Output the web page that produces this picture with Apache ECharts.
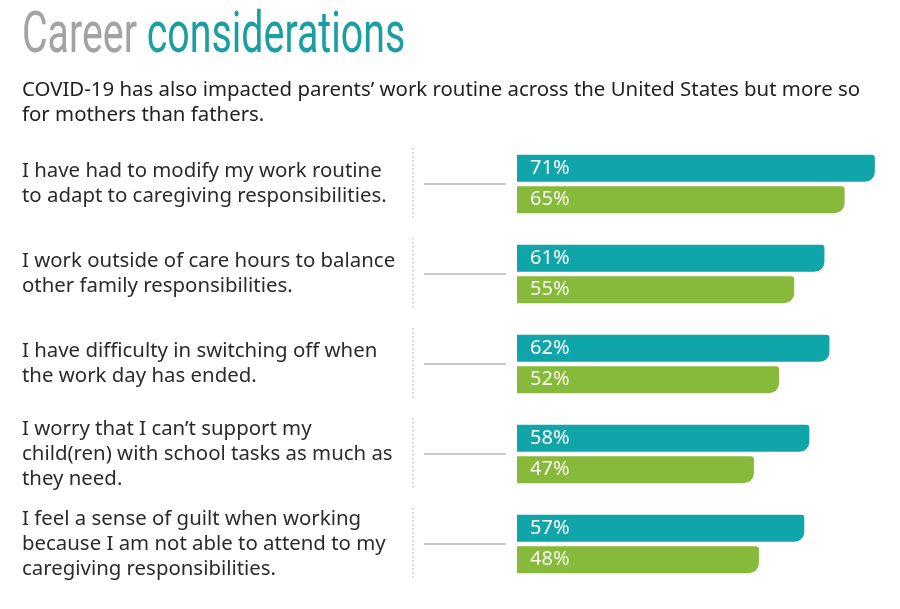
<!DOCTYPE html>
<html>
<head>
<meta charset="utf-8">
<script src="https://cdn.jsdelivr.net/npm/echarts@6/dist/echarts.min.js"></script>
<style>
  html, body { margin: 0; padding: 0; background: #fff; }
  #chart { width: 900px; height: 609px; }
</style>
</head>
<body>
<div id="chart"></div>
<script>
// statements, top to bottom
var categories = [
    'I have had to modify my work routine\nto adapt to caregiving responsibilities.',
    'I work outside of care hours to balance\nother family responsibilities.',
    'I have difficulty in switching off when\nthe work day has ended.',
    'I worry that I can\u2019t support my\nchild(ren) with school tasks as much as\nthey need.',
    'I feel a sense of guilt when working\nbecause I am not able to attend to my\ncaregiving responsibilities.'
];
// share of parents, %
var mothers = [71, 61, 62, 58, 57];
var fathers = [65, 55, 52, 47, 48];

var teal = '#10a5a8';
var green = '#87b93b';
var textFont = '"Noto Sans", "Open Sans", sans-serif';

var myChart = echarts.init(document.getElementById('chart'));

// gray leader line and dotted divider for each statement
function renderGuide(params, api) {
    var p = api.coord([0, api.value(0)]);
    var band = api.size([0, 1])[1];
    return {
        type: 'group',
        children: [
            {
                type: 'line',
                shape: { x1: p[0] - 93, y1: p[1], x2: p[0] - 11, y2: p[1] },
                style: { stroke: '#c9c9c9', lineWidth: 2 }
            },
            {
                type: 'line',
                shape: { x1: p[0] - 104, y1: p[1] - band * 0.4, x2: p[0] - 104, y2: p[1] + band * 0.4 },
                style: { stroke: '#c4c4c4', lineWidth: 1.5, lineDash: [1.5, 2.5] }
            }
        ]
    };
}

var option = {
    backgroundColor: '#fff',
    animation: false,
    graphic: [
        {
            type: 'text',
            left: 22,
            top: 9,
            scaleX: 0.69,
            style: {
                text: '{a|Career }{b|considerations}',
                rich: {
                    a: { fontFamily: 'Roboto', fontWeight: 400, fontSize: 57, fill: '#a3a3a3' },
                    b: { fontFamily: 'Roboto', fontWeight: 400, fontSize: 57, fill: '#1a9ea1' }
                }
            }
        },
        {
            type: 'text',
            left: 22,
            top: 78,
            style: {
                text: 'COVID-19 has also impacted parents\u2019 work routine across the United States but more so\nfor mothers than fathers.',
                fontFamily: textFont,
                fontSize: 20.4,
                lineHeight: 25,
                fill: '#222'
            }
        }
    ],
    grid: { left: 517, top: 139, width: 378, height: 450 },
    xAxis: {
        type: 'value',
        min: 0,
        max: 75,
        show: false
    },
    yAxis: {
        type: 'category',
        inverse: true,
        data: categories,
        axisLine: { show: false },
        axisTick: { show: false },
        axisLabel: {
            align: 'left',
            margin: 495,
            padding: [5, 0, 0, 0],
            fontFamily: textFont,
            fontSize: 20.4,
            lineHeight: 25,
            color: '#2b2b2b'
        }
    },
    series: [
        {
            name: 'Mothers',
            type: 'bar',
            data: mothers,
            barWidth: 27,
            barGap: '16%',
            itemStyle: { color: teal, borderRadius: [0, 3, 10, 0] },
            label: {
                show: true,
                position: 'insideLeft',
                distance: 13,
                formatter: '{c}%',
                fontFamily: textFont,
                fontSize: 20,
                color: '#fff'
            }
        },
        {
            name: 'Fathers',
            type: 'bar',
            data: fathers,
            barWidth: 27,
            itemStyle: { color: green, borderRadius: [0, 3, 10, 0] },
            label: {
                show: true,
                position: 'insideLeft',
                distance: 13,
                formatter: '{c}%',
                fontFamily: textFont,
                fontSize: 20,
                color: '#f4f8ea'
            }
        },
        {
            type: 'custom',
            renderItem: renderGuide,
            data: categories.map(function (c, i) { return [i]; }),
            encode: { y: 0 },
            silent: true
        }
    ]
};

myChart.setOption(option);
</script>
</body>
</html>
